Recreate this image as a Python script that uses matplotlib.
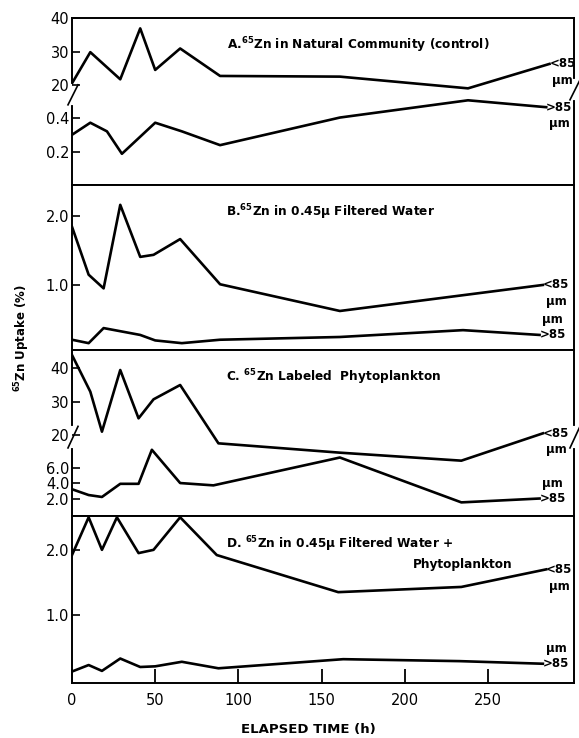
import numpy as np
import matplotlib
matplotlib.use('Agg')
import matplotlib.pyplot as plt

# ---------------- data (elapsed time h, uptake %) ----------------
# Panel A: 65Zn in natural community (control)
a_up_t = [0, 11, 29, 41, 50, 65, 89, 161, 238, 287]
a_up_v = [20.5, 29.8, 21.7, 36.9, 24.5, 30.9, 22.7, 22.5, 19.0, 26.3]
a_lo_t = [0, 11, 21, 30, 50, 66, 89, 161, 238, 285]
a_lo_v = [0.30, 0.37, 0.32, 0.19, 0.37, 0.32, 0.24, 0.40, 0.50, 0.46]
# Panel B: 65Zn in 0.45 u filtered water
b_up_t = [0, 10, 19, 29, 41, 49, 65, 89, 161, 283]
b_up_v = [1.85, 1.15, 0.95, 2.17, 1.41, 1.44, 1.67, 1.01, 0.62, 1.00]
b_lo_t = [0, 10, 19, 41, 50, 66, 89, 161, 235, 281]
b_lo_v = [0.20, 0.15, 0.37, 0.27, 0.19, 0.15, 0.20, 0.24, 0.34, 0.27]
# Panel C: 65Zn labeled phytoplankton
c_up_t = [0, 11, 18, 29, 40, 49, 65, 88, 161, 234, 283]
c_up_v = [44.0, 33.0, 21.0, 39.5, 25.0, 30.7, 35.0, 17.5, 14.7, 12.3, 20.5]
c_lo_t = [0, 10, 18, 29, 40, 48, 65, 85, 161, 234, 281]
c_lo_v = [3.2, 2.45, 2.2, 3.9, 3.9, 8.3, 4.0, 3.7, 7.3, 1.5, 2.0]
# Panel D: 65Zn in 0.45 u filtered water + phytoplankton
d_up_t = [0, 10, 18, 27, 40, 49, 65, 87, 160, 234, 285]
d_up_v = [1.92, 2.5, 2.0, 2.5, 1.95, 2.0, 2.5, 1.92, 1.35, 1.43, 1.70]
d_lo_t = [0, 10, 18, 29, 41, 50, 66, 88, 163, 233, 283]
d_lo_v = [0.13, 0.23, 0.14, 0.33, 0.20, 0.21, 0.28, 0.18, 0.32, 0.29, 0.25]

x_ticks = [0, 50, 100, 150, 200, 250]
titles = ["A.$^{65}$Zn in Natural Community (control)",
          "B.$^{65}$Zn in 0.45\u00b5 Filtered Water",
          "C. $^{65}$Zn Labeled  Phytoplankton",
          "D. $^{65}$Zn in 0.45\u00b5 Filtered Water +"]

plt.rcParams['font.family'] = ['DejaVu Sans']
plt.rcParams['mathtext.default'] = 'bf'

W, H = 579, 738
fig = plt.figure(figsize=(W / 100, H / 100), dpi=100)

def rect(top, bottom):
    return [72 / W, (H - bottom) / H, (574 - 72) / W, (bottom - top) / H]

LW = 1.9
SP = 1.4
TFS = 8.7
FS = 10.5

def style(ax, show_x=False):
    ax.set_xlim(0, 301.7)
    for s in ax.spines.values():
        s.set_linewidth(SP)
    ax.tick_params(axis='y', direction='in', length=6, width=1.2, labelsize=FS, pad=2,
                   right=False)
    if show_x:
        ax.set_xticks(x_ticks)
        ax.tick_params(axis='x', direction='in', length=10, width=1.3, labelsize=FS,
                       top=False, pad=7)
    else:
        ax.set_xticks([])

def make_twin(ax):
    ax2 = ax.twinx()
    ax2.yaxis.set_ticks_position('left')
    ax2.yaxis.set_label_position('left')
    for s in ax2.spines.values():
        s.set_visible(False)
    ax2.tick_params(axis='y', direction='in', length=6, width=1.2, labelsize=FS, pad=2,
                    right=False, left=True)
    return ax2

def size_labels(ax, t, v, up, below_mu, dy=0):
    ax.annotate('<85' if up else '>85', xy=(t[-1], v[-1]), xytext=(0, dy),
                textcoords='offset points', ha='left', va='center',
                fontsize=8.5, fontweight='bold', annotation_clip=False)
    ax.annotate('\u00b5m', xy=(t[-1], v[-1]), xytext=(2, dy + (-12 if below_mu else 11)),
                textcoords='offset points', ha='left', va='center',
                fontsize=8.5, fontweight='bold', annotation_clip=False)

def brk(ax, y0, y1, side=0):
    # small break mark on the axis spine (axes coords)
    x = 0.0 if side == 0 else 1.0
    ax.plot([x, x], [y0, y1], color='white', lw=3, transform=ax.transAxes,
            clip_on=False, zorder=5)
    ax.plot([x - 0.008, x + 0.012], [y0 - 0.01, y1 + 0.01], color='black', lw=1.2,
            transform=ax.transAxes, clip_on=False, zorder=6)

# ---- Panel A ----
axA = fig.add_axes(rect(18, 185))
style(axA)
axA.set_ylim(0.009, 0.977)
axA.set_yticks([0.2, 0.4])
axA.set_yticklabels(['0.2', '0.4'])
axA.plot(a_lo_t, a_lo_v, color='black', lw=LW)
axA2 = make_twin(axA)
axA2.set_ylim(-9.85, 40)
axA2.set_yticks([20, 30, 40])
axA2.plot(a_up_t, a_up_v, color='black', lw=LW)
axA.text(0.309, 0.838, titles[0], transform=axA.transAxes, fontsize=TFS,
         fontweight='bold', va='center', ha='left')
size_labels(axA2, a_up_t, a_up_v, True, True)
size_labels(axA, a_lo_t, a_lo_v, False, True)
brk(axA, 0.49, 0.59, 0)
brk(axA, 0.52, 0.62, 1)

# ---- Panel B ----
axB = fig.add_axes(rect(185, 350))
style(axB)
axB.set_ylim(0.05, 2.46)
axB.set_yticks([1.0, 2.0])
axB.set_yticklabels(['1.0', '2.0'])
axB.plot(b_up_t, b_up_v, color='black', lw=LW)
axB.plot(b_lo_t, b_lo_v, color='black', lw=LW)
axB.text(0.307, 0.836, titles[1], transform=axB.transAxes, fontsize=TFS,
         fontweight='bold', va='center', ha='left')
size_labels(axB, b_up_t, b_up_v, True, True)
size_labels(axB, b_lo_t, b_lo_v, False, False)

# ---- Panel C ----
axC = fig.add_axes(rect(350, 516))
style(axC)
axC.set_ylim(-0.26, 21.2)
axC.set_yticks([2.0, 4.0, 6.0])
axC.set_yticklabels(['2.0', '4.0', '6.0'])
axC.plot(c_lo_t, c_lo_v, color='black', lw=LW)
axC2 = make_twin(axC)
axC2.set_ylim(-4.3, 45.5)
axC2.set_yticks([20, 30, 40])
axC2.plot(c_up_t, c_up_v, color='black', lw=LW)
axC.text(0.307, 0.837, titles[2], transform=axC.transAxes, fontsize=TFS,
         fontweight='bold', va='center', ha='left')
size_labels(axC2, c_up_t, c_up_v, True, True)
size_labels(axC, c_lo_t, c_lo_v, False, False)
brk(axC, 0.42, 0.53, 0)
brk(axC, 0.42, 0.53, 1)

# ---- Panel D ----
axD = fig.add_axes(rect(516, 683))
style(axD, show_x=True)
axD.set_ylim(-0.046, 2.52)
axD.set_yticks([1.0, 2.0])
axD.set_yticklabels(['1.0', '2.0'])
axD.plot(d_up_t, d_up_v, color='black', lw=LW)
axD.plot(d_lo_t, d_lo_v, color='black', lw=LW)
axD.text(0.307, 0.832, titles[3], transform=axD.transAxes, fontsize=TFS,
         fontweight='bold', va='center', ha='left')
axD.text(0.878, 0.707, "Phytoplankton", transform=axD.transAxes, fontsize=TFS,
         fontweight='bold', va='center', ha='right')
size_labels(axD, d_up_t, d_up_v, True, True)
size_labels(axD, d_lo_t, d_lo_v, False, False)

fig.text(22 / W, (H - 338) / H, "$^{65}$Zn Uptake (%)", rotation=90, fontsize=8.5,
         fontweight='bold', ha='center', va='center')
fig.text(308 / W, (H - 729) / H, "ELAPSED TIME (h)", fontsize=9.5, fontweight='bold',
         ha='center', va='center')

fig.savefig('out.png', dpi=100)
